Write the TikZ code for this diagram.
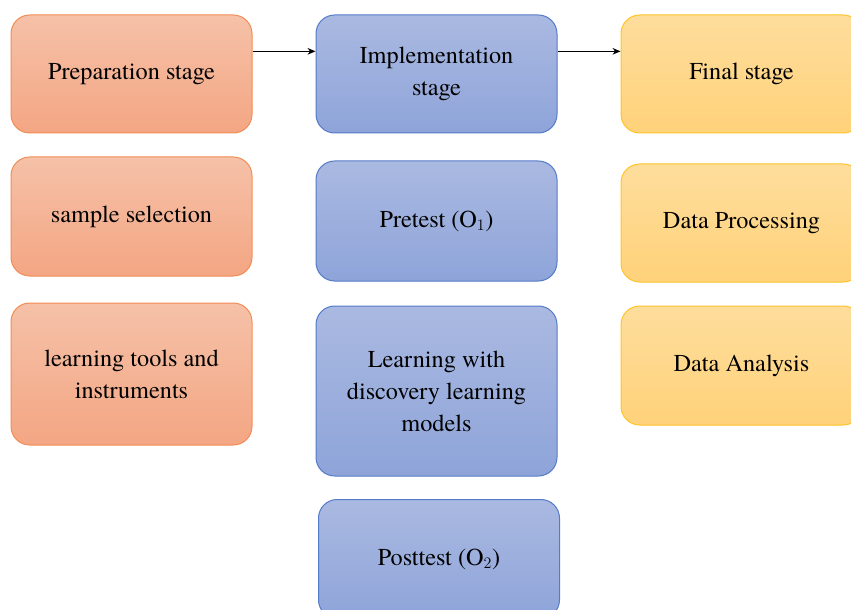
\documentclass[tikz,border=0pt]{standalone}
\usepackage{fontspec}
\setmainfont{texgyretermes}[Extension=.otf, UprightFont=*-regular, BoldFont=*-bold]
\usepackage{tikz}
\usetikzlibrary{arrows.meta}

\tikzset{
  stagebox/.style={rounded corners=14pt, line width=0.75pt, minimum width=180.75pt,
    align=center, inner sep=0.75pt, font=\fontsize{18.2}{24}\selectfont},
  prepbox/.style={stagebox, draw={rgb,255:red,241;green,140;blue,84},
    top color={rgb,255:red,245;green,193;blue,168}, bottom color={rgb,255:red,244;green,166;blue,131}},
  implbox/.style={stagebox, draw={rgb,255:red,84;green,122;blue,200},
    top color={rgb,255:red,170;green,185;blue,225}, bottom color={rgb,255:red,142;green,164;blue,217}},
  finalbox/.style={stagebox, draw={rgb,255:red,255;green,196;blue,40},
    top color={rgb,255:red,254;green,221;blue,156}, bottom color={rgb,255:red,255;green,210;blue,122}},
  flow/.style={line width=0.75pt, -{Stealth[length=6pt,width=5pt]}}
}

\begin{document}
\begin{tikzpicture}[x=0.75pt,y=0.75pt,yscale=-1,xscale=1]
  \useasboundingbox (0,0) rectangle (851,610);
  \clip (0,0) rectangle (851,610);

  % Preparation column
  \node [prepbox, minimum height=88.5pt] (prep) at (131.5,74) {Preparation stage};
  \node [prepbox, minimum height=89.25pt] (sample) at (131.5,216.5) {sample selection};
  \node [prepbox, minimum height=106.5pt] (tools) at (131.5,374) {learning tools and\\instruments};

  % Implementation column
  \node [implbox, minimum height=88.5pt] (impl) at (436.5,74) {Implementation\\stage};
  \node [implbox, minimum height=90pt] (pretest) at (436.5,221) {Pretest (\(\mathrm{O}_1\))};
  \node [implbox, minimum height=127.5pt] (learn) at (436.5,391) {Learning with\\discovery learning\\models};
  \node [implbox, minimum height=89.25pt] (posttest) at (439,559) {Posttest (\(\mathrm{O}_2\))};

  % Final column
  \node [finalbox, minimum height=88.5pt] (final) at (741.5,74) {Final stage};
  \node [finalbox, minimum height=88.5pt] (proc) at (741.5,223) {Data Processing};
  \node [finalbox, minimum height=89.25pt] (anal) at (741.5,365.5) {Data Analysis};

  % Arrows
  \draw [flow] ([yshift=-17pt]prep.east) -- ([yshift=-17pt]impl.west);
  \draw [flow] ([yshift=-17pt]impl.east) -- ([yshift=-17pt]final.west);
\end{tikzpicture}
\end{document}
